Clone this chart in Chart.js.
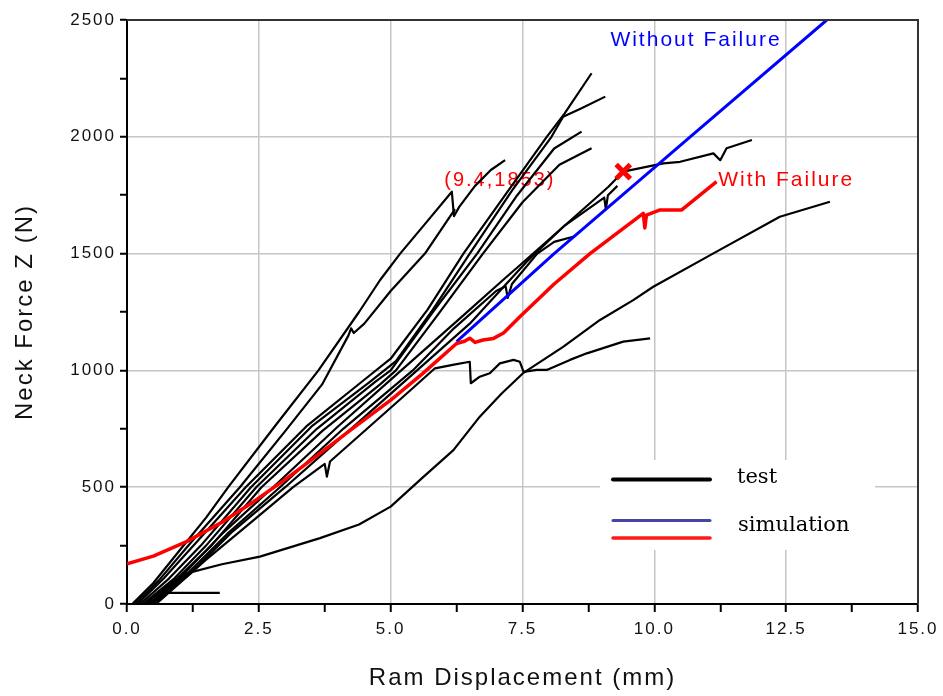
<!DOCTYPE html>
<html>
<head>
<meta charset="utf-8">
<script src="https://cdn.jsdelivr.net/npm/chart.js@4.4.1/dist/chart.umd.min.js"></script>
<style>
  html, body { margin: 0; padding: 0; background: #fff; }
  #wrap { width: 943px; height: 696px; position: relative; }
</style>
</head>
<body>
<div id="wrap"><canvas id="neck-force"></canvas></div>
<script>
"use strict";

// ensayos (desplazamiento mm, fuerza N)
const test1X = [0.1, 0.5, 1.0, 1.5, 1.92, 2.8, 3.63, 4.4, 4.8, 5.18, 5.7, 6.16, 6.2, 6.3, 6.6, 6.9, 7.17];
const test1Y = [0, 90, 230, 370, 500, 760, 1000, 1250, 1387, 1500, 1640, 1765, 1660, 1700, 1790, 1858, 1900];
const test2X = [0.15, 0.6, 1.2, 2.14, 3.0, 3.7, 4.2, 4.25, 4.3, 4.5, 5.0, 5.65, 6.22];
const test2Y = [0, 100, 260, 500, 740, 940, 1150, 1180, 1160, 1200, 1340, 1500, 1690];
const test3X = [0.2, 0.7, 1.3, 2.25, 3.4, 4.5, 5.0, 5.7, 6.38, 7.2, 7.96, 8.3, 8.81];
const test3Y = [0, 110, 260, 500, 760, 960, 1050, 1260, 1500, 1760, 2000, 2100, 2272];
const test4X = [0.25, 0.8, 1.4, 2.35, 3.5, 4.6, 5.1, 5.8, 6.5, 7.3, 8.05, 8.27, 8.6, 9.07];
const test4Y = [0, 110, 250, 500, 760, 950, 1040, 1260, 1500, 1770, 2000, 2086, 2120, 2172];
const test5X = [0.3, 0.9, 1.5, 2.45, 3.6, 4.7, 5.0, 5.8, 6.64, 7.4, 8.1, 8.62];
const test5Y = [0, 110, 250, 500, 750, 950, 1000, 1250, 1500, 1750, 1950, 2022];
const test6X = [0.35, 1.0, 1.6, 2.55, 3.7, 4.8, 5.1, 5.9, 6.75, 7.5, 8.2, 8.81];
const test6Y = [0, 120, 250, 500, 740, 940, 1000, 1240, 1500, 1720, 1880, 1951];
const test7X = [0.4, 1.0, 1.8, 2.77, 4.0, 5.2, 6.4, 7.13, 7.45, 8.2, 8.8, 9.13, 9.41, 10.17, 10.49, 11.12, 11.25, 11.37, 11.85];
const test7Y = [0, 110, 300, 500, 760, 1000, 1240, 1387, 1450, 1600, 1720, 1786, 1851, 1886, 1893, 1929, 1900, 1951, 1986];
const test8X = [0.45, 1.1, 1.9, 2.9, 4.1, 5.42, 6.2, 7.0, 7.18, 7.22, 7.3, 7.78, 8.1, 8.46];
const test8Y = [0, 120, 300, 500, 750, 1000, 1180, 1340, 1360, 1310, 1370, 1500, 1550, 1572];
const test9X = [0.5, 1.2, 2.0, 3.0, 4.2, 5.5, 6.5, 7.6, 8.3, 9.05, 9.08, 9.12, 9.3];
const test9Y = [0, 130, 310, 500, 740, 1000, 1200, 1470, 1620, 1740, 1690, 1750, 1790];
const test10X = [0.55, 1.5, 2.3, 3.15, 3.75, 3.79, 3.85, 4.6, 5.3, 5.84, 6.2, 6.5, 6.52, 6.69, 6.88, 7.07, 7.33, 7.45, 7.52, 7.77, 7.96, 8.4, 8.72, 9.41, 9.92];
const test10Y = [0, 190, 340, 500, 600, 545, 610, 760, 900, 1009, 1025, 1037, 945, 973, 988, 1030, 1045, 1037, 994, 1002, 1002, 1045, 1073, 1123, 1137];
const test11X = [0.45, 0.8, 1.13, 1.8, 2.52, 3.66, 4.4, 5.0, 5.6, 6.19, 6.69, 7.1, 7.51, 8.27, 8.97, 9.6, 9.98, 11.12, 12.38, 13.33];
const test11Y = [0, 80, 131, 170, 203, 282, 340, 417, 540, 659, 802, 900, 988, 1101, 1216, 1301, 1358, 1501, 1658, 1722];
const test12X = [0.4, 0.75, 1.76];
const test12Y = [0, 48, 48];

// simulación
const withFailureX = [0, 0.5, 1.13, 1.8, 2.4, 3.03, 3.66, 4.3, 5.0, 5.6, 6.25, 6.4, 6.5, 6.6, 6.75, 6.95, 7.14, 7.45, 8.1, 8.78, 9.79, 9.82, 9.85, 10.11, 10.52, 11.18];
const withFailureY = [172, 205, 267, 350, 438, 538, 645, 755, 873, 985, 1115, 1125, 1138, 1120, 1130, 1137, 1160, 1230, 1370, 1500, 1672, 1610, 1665, 1687, 1687, 1808];
const withoutFailureX = [6.25, 8.1, 10.68, 13.27];
const withoutFailureY = [1123, 1500, 2000, 2500];
const failurePoint = { x: 9.41, y: 1851 };

const xTicks = [0, 2.5, 5, 7.5, 10, 12.5, 15];
const yTicks = [0, 500, 1000, 1500, 2000, 2500];

const testX = [test1X, test2X, test3X, test4X, test5X, test6X, test7X, test8X, test9X, test10X, test11X, test12X];
const testY = [test1Y, test2Y, test3Y, test4Y, test5Y, test6Y, test7Y, test8Y, test9Y, test10Y, test11Y, test12Y];

function toPoints(xs, ys) {
    return xs.map((x, i) => ({ x: x, y: ys[i] }));
}

const isMajor = (v, step) => Math.abs(v / step - Math.round(v / step)) < 1e-6;

const notes = {
    id: 'notes',
    beforeDraw(chart) {
        chart.ctx.letterSpacing = '2px';
    },
    beforeDatasetsDraw(chart) {
        const { ctx, scales: { x, y } } = chart;
        ctx.save();
        // la leyenda tapa la grilla
        ctx.fillStyle = '#fff';
        ctx.fillRect(600, 460, 275, 90);

        ctx.textBaseline = 'middle';
        ctx.font = '20px "Liberation Sans"';
        ctx.fillStyle = '#ff0000';
        ctx.textAlign = 'center';
        ctx.fillText('(9.4,1853)', x.getPixelForValue(7.07), y.getPixelForValue(1815));
        ctx.font = '21px "Liberation Sans"';
        ctx.textAlign = 'left';
        ctx.fillText('With Failure', x.getPixelForValue(11.21), y.getPixelForValue(1815));
        ctx.fillStyle = '#0000ff';
        ctx.textAlign = 'center';
        ctx.fillText('Without Failure', x.getPixelForValue(10.79), y.getPixelForValue(2414));
        ctx.restore();
    },
    afterDatasetsDraw(chart) {
        const { ctx, chartArea: a } = chart;
        ctx.save();
        ctx.strokeStyle = '#333';
        ctx.lineWidth = 2;
        ctx.beginPath();
        ctx.moveTo(a.left, a.top);
        ctx.lineTo(a.right, a.top);
        ctx.lineTo(a.right, a.bottom);
        ctx.stroke();

        ctx.letterSpacing = '0px';
        ctx.lineCap = 'round';
        ctx.strokeStyle = '#000';
        ctx.lineWidth = 4;
        ctx.beginPath(); ctx.moveTo(613, 479.5); ctx.lineTo(710, 479.5); ctx.stroke();
        ctx.strokeStyle = '#4545a8';
        ctx.lineWidth = 3;
        ctx.beginPath(); ctx.moveTo(613, 520.5); ctx.lineTo(710, 520.5); ctx.stroke();
        ctx.strokeStyle = '#ff1a1a';
        ctx.lineWidth = 3.5;
        ctx.beginPath(); ctx.moveTo(613, 538); ctx.lineTo(710, 538); ctx.stroke();

        ctx.fillStyle = '#000';
        ctx.font = '21px "DejaVu Serif"';
        ctx.textBaseline = 'middle';
        ctx.textAlign = 'left';
        ctx.fillText('test', 737, 478);
        ctx.fillText('simulation', 738, 526);
        ctx.restore();
    }
};

const datasets = [
    {
        label: 'failure',
        data: [failurePoint],
        showLine: false,
        pointStyle: 'crossRot',
        pointRadius: 10,
        borderWidth: 5,
        borderColor: '#ff0000'
    },
    {
        label: 'With Failure',
        data: toPoints(withFailureX, withFailureY),
        showLine: true,
        borderColor: '#ff0000',
        borderWidth: 3.5,
        pointRadius: 0
    },
    {
        label: 'Without Failure',
        data: toPoints(withoutFailureX, withoutFailureY),
        showLine: true,
        borderColor: '#0000ff',
        borderWidth: 3,
        pointRadius: 0
    }
];
testX.forEach((xs, i) => {
    datasets.push({
        label: 'test ' + (i + 1),
        data: toPoints(xs, testY[i]),
        showLine: true,
        borderColor: '#000',
        borderWidth: 2.2,
        pointRadius: 0
    });
});

const ctx = document.getElementById('neck-force').getContext('2d');
const chart = new Chart(ctx, {
    type: 'scatter',
    data: { datasets: datasets },
    plugins: [notes],
    options: {
        responsive: true,
        maintainAspectRatio: false,
        animation: false,
        events: [],
        layout: { padding: { top: 20, right: 25, left: 0, bottom: 0 } },
        elements: { line: { tension: 0, borderJoinStyle: 'round' } },
        plugins: {
            legend: { display: false },
            tooltip: { enabled: false }
        },
        scales: {
            x: {
                type: 'linear',
                min: xTicks[0],
                max: xTicks[xTicks.length - 1],
                afterFit: s => { s.height = 92; },
                ticks: {
                    stepSize: 1.25,
                    autoSkip: false,
                    maxRotation: 0,
                    padding: 7,
                    color: '#111',
                    font: { family: '"Liberation Sans"', size: 17 },
                    callback: v => isMajor(v, xTicks[1]) ? v.toFixed(1) : ''
                },
                grid: {
                    color: c => c.tick && isMajor(c.tick.value, xTicks[1]) ? '#c6c6c6' : 'rgba(0,0,0,0)',
                    lineWidth: 1.5,
                    tickColor: '#000',
                    tickLength: 8,
                    tickWidth: 2
                },
                border: { color: '#000', width: 2 },
                title: {
                    display: true,
                    text: 'Ram Displacement (mm)',
                    color: '#111',
                    font: { family: '"Liberation Sans"', size: 24 },
                    padding: { top: 4, bottom: 3 }
                }
            },
            y: {
                type: 'linear',
                min: yTicks[0],
                max: yTicks[yTicks.length - 1],
                afterFit: s => { s.width = 127; },
                ticks: {
                    stepSize: 250,
                    autoSkip: false,
                    padding: 4,
                    color: '#111',
                    font: { family: '"Liberation Sans"', size: 17 },
                    callback: v => isMajor(v, yTicks[1]) ? String(v) : ''
                },
                grid: {
                    color: c => c.tick && isMajor(c.tick.value, yTicks[1]) ? '#c6c6c6' : 'rgba(0,0,0,0)',
                    lineWidth: 1.5,
                    tickColor: '#000',
                    tickLength: 7,
                    tickWidth: 2
                },
                border: { color: '#000', width: 2 },
                title: {
                    display: true,
                    text: 'Neck Force Z (N)',
                    color: '#111',
                    font: { family: '"Liberation Sans"', size: 24 },
                    padding: { top: 11, bottom: 4 }
                }
            }
        }
    }
});
</script>
</body>
</html>
